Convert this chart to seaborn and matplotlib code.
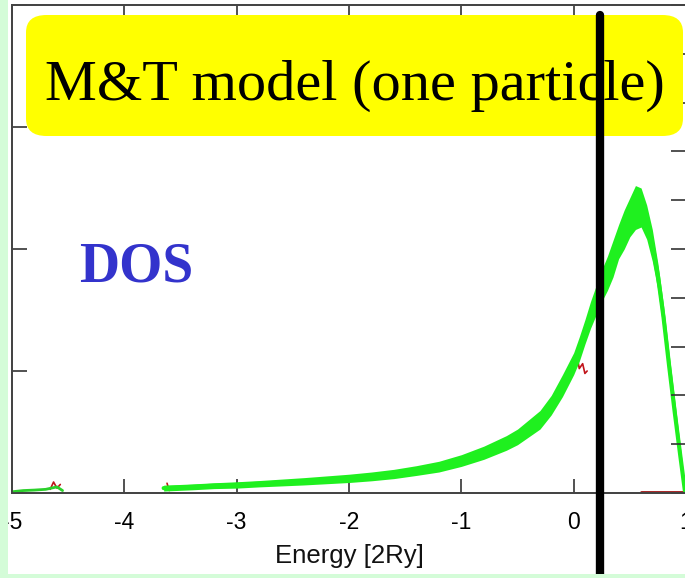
import numpy as np
import pandas as pd
import matplotlib
matplotlib.use("Agg")
import matplotlib.pyplot as plt
import seaborn as sns
from matplotlib.patches import FancyBboxPatch, Rectangle

# ---- data ----
dos_energy = [-3.65, -3.4, -3.2, -3.0, -2.8, -2.6, -2.4, -2.2, -2.0, -1.8, -1.6,
              -1.4, -1.2, -1.0, -0.8, -0.6, -0.5, -0.4, -0.3, -0.2, -0.1, 0.0,
              0.05, 0.1, 0.15, 0.2, 0.25, 0.3, 0.35, 0.4, 0.45, 0.5, 0.55, 0.6,
              0.65, 0.7, 0.75, 0.8, 0.85, 0.9, 0.95, 0.99]
dos_value = [0.2, 0.25, 0.3, 0.33, 0.38, 0.43, 0.48, 0.54, 0.6, 0.68, 0.78,
             0.92, 1.08, 1.33, 1.65, 2.05, 2.3, 2.65, 3.0, 3.6, 4.4, 5.3,
             5.9, 6.6, 7.3, 7.9, 8.5, 9.0, 9.6, 10.3, 10.8, 11.4, 11.8, 11.9,
             11.1, 10.2, 8.9, 7.2, 5.2, 3.3, 1.5, 0.1]
dos_upper = [0.32, 0.37, 0.42, 0.46, 0.51, 0.57, 0.63, 0.7, 0.77, 0.86, 0.97,
             1.12, 1.3, 1.57, 1.92, 2.35, 2.62, 3.0, 3.38, 4.0, 4.85, 5.75,
             6.4, 7.1, 7.85, 8.5, 9.15, 9.7, 10.35, 11.0, 11.6, 12.1, 12.6, 12.5,
             11.8, 10.8, 9.4, 7.7, 5.7, 3.8, 1.9, 0.3]
dos_lower = [0.08, 0.13, 0.18, 0.2, 0.25, 0.29, 0.33, 0.38, 0.43, 0.5, 0.59,
             0.72, 0.86, 1.09, 1.38, 1.75, 1.98, 2.3, 2.62, 3.2, 3.95, 4.85,
             5.4, 6.1, 6.75, 7.3, 7.85, 8.3, 8.85, 9.6, 10.0, 10.5, 10.8, 10.9,
             10.4, 9.5, 8.3, 6.6, 4.6, 2.8, 1.1, 0.0]
tail_energy = [-5.0, -4.9, -4.8, -4.7, -4.6, -4.55]
tail_value = [0.05, 0.1, 0.12, 0.15, 0.25, 0.1]
red_energy = [-4.66, -4.63, -4.6, -4.57, -3.62, -3.6, 0.03, 0.05, 0.08, 0.1, 0.12]
red_value = [0.15, 0.45, 0.2, 0.35, 0.4, 0.1, 5.6, 5.1, 5.3, 4.9, 5.0]
red_group = ["a", "a", "a", "a", "b", "b", "c", "c", "c", "c", "c"]
base_energy = [0.6, 1.0]
base_value = [0.05, 0.05]

x_ticks = [-5, -4, -3, -2, -1, 0, 1]
x_tick_labels = ["-5", "-4", "-3", "-2", "-1", "0", "1"]
fermi_energy = 0.235
title_text = "M&T model (one particle)"
dos_label = "DOS"
x_label = "Energy [2Ry]"

W, H = 685, 578
sns.set_style("ticks")
fig = plt.figure(figsize=(W / 100, H / 100), dpi=100)
fig.patch.set_facecolor("white")
ax = fig.add_axes([12 / W, (H - 493) / H, (686 - 12) / W, (493 - 5) / H])

green = "#1ff01f"
ax.fill_between(dos_energy, dos_lower, dos_upper, color=green, lw=0, zorder=3)
df = pd.DataFrame({"E": dos_energy, "D": dos_value})
sns.lineplot(data=df, x="E", y="D", ax=ax, color=green, lw=3, zorder=3)
sns.lineplot(x=tail_energy, y=tail_value, ax=ax, color="#2bd02b", lw=2, zorder=3)
dfr = pd.DataFrame({"E": red_energy, "D": red_value, "g": red_group})
for g, sub in dfr.groupby("g"):
    sns.lineplot(data=sub, x="E", y="D", ax=ax, color="#c0141a", lw=1.2, zorder=2,
                 sort=False)
sns.lineplot(x=base_energy, y=base_value, ax=ax, color="#a01010", lw=2, zorder=2)

ax.set_xlim(-5, 1)
ax.set_ylim(0, 20)
ax.set_xticks(x_ticks)
ax.set_xticklabels(x_tick_labels, fontsize=16.5, family="Liberation Sans")
ax.set_yticks([0, 5, 10, 15, 20])
ax.set_yticklabels([])
ax.tick_params(axis="x", direction="in", length=10, width=1.2, pad=13,
               top=True, colors="#333333", labelcolor="black")
ax.tick_params(axis="y", direction="in", length=11, width=1.2, left=True,
               colors="#333333")
ax.set_xlabel(x_label, fontsize=18.5, family="Liberation Sans", labelpad=7,
              color="#111111")
ax.set_ylabel("")
ax2 = ax.twinx()
ax2.set_ylim(0, 20)
ax2.set_yticks(list(range(0, 21, 2)))
ax2.set_yticklabels([])
ax2.tick_params(axis="y", direction="in", length=11, width=1.2, colors="#333333")
for a in (ax, ax2):
    for s in a.spines.values():
        s.set_color("#444444")
        s.set_linewidth(1.3)

# yellow title box
box = FancyBboxPatch((26 / W, (H - 136) / H), (683 - 26) / W, (136 - 15) / H,
                     boxstyle="round,pad=0,rounding_size=0.03",
                     transform=fig.transFigure, facecolor="#ffff00",
                     edgecolor="none", zorder=10, clip_on=False)
ax2.add_patch(box)
ax2.text(354.5 / W, (H - 100) / H, title_text, transform=fig.transFigure,
         ha="center", va="baseline", fontsize=42, family="Liberation Serif",
         color="black", zorder=11)
ax2.text(136 / W, (H - 282) / H, dos_label, transform=fig.transFigure,
         ha="center", va="baseline", fontsize=40, family="Liberation Serif",
         fontweight="bold", color="#3333cc", zorder=11)
ax2.axvline(fermi_energy, ymin=(493 - 575) / 488, ymax=(493 - 15) / 488,
            color="black", lw=6, clip_on=False, zorder=12)

# slide background strips
fig.patches.append(Rectangle((0, 0), 8 / W, 1, transform=fig.transFigure,
                             facecolor="#d4fcd8", edgecolor="none", zorder=20))
fig.patches.append(Rectangle((0, 0), 1, 4 / H, transform=fig.transFigure,
                             facecolor="#d4fcd8", edgecolor="none", zorder=20))

fig.savefig("out.png", dpi=100)
